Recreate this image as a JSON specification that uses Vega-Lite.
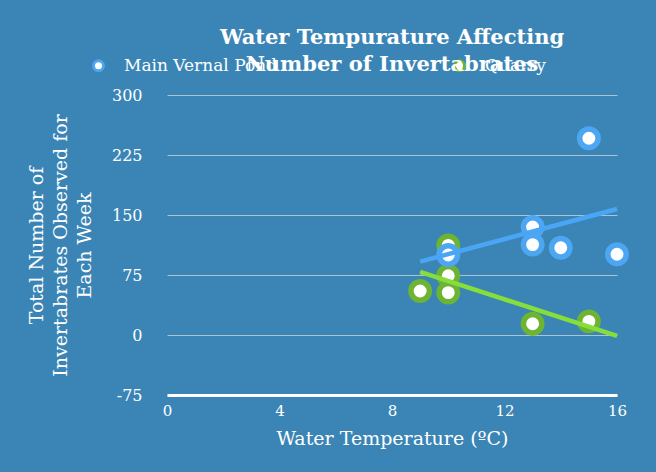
{
  "$schema": "https://vega.github.io/schema/vega-lite/v6.json",
  "width": 450,
  "height": 300,
  "autosize": {"type": "none"},
  "padding": {"left": 167, "top": 95, "right": 39, "bottom": 77},
  "background": "#3b85b6",
  "config": {
    "view": {"stroke": null},
    "font": "DejaVu Serif",
    "title": {"font": "DejaVu Serif"},
    "axis": {"labelFont": "DejaVu Serif", "titleFont": "DejaVu Serif"},
    "legend": {"labelFont": "DejaVu Serif"}
  },
  "title": {
    "text": ["Water Tempurature Affecting", "Number of Invertabrates"],
    "fontSize": 21,
    "fontWeight": "bold",
    "color": "white",
    "anchor": "middle",
    "frame": "group",
    "lineHeight": 27,
    "offset": 14,
    "dy": 32
  },
  "data": {
    "values": [
      {"Site": "Quarry", "Temperature": 9, "Count": 55},
      {"Site": "Quarry", "Temperature": 10, "Count": 112},
      {"Site": "Quarry", "Temperature": 10, "Count": 74},
      {"Site": "Quarry", "Temperature": 10, "Count": 53},
      {"Site": "Quarry", "Temperature": 13, "Count": 14},
      {"Site": "Quarry", "Temperature": 15, "Count": 17},
      {"Site": "Main Vernal Pond", "Temperature": 10, "Count": 100},
      {"Site": "Main Vernal Pond", "Temperature": 13, "Count": 135},
      {"Site": "Main Vernal Pond", "Temperature": 13, "Count": 113},
      {"Site": "Main Vernal Pond", "Temperature": 14, "Count": 109},
      {"Site": "Main Vernal Pond", "Temperature": 15, "Count": 246},
      {"Site": "Main Vernal Pond", "Temperature": 16, "Count": 101}
    ]
  },
  "encoding": {
    "x": {
      "field": "Temperature",
      "type": "quantitative",
      "scale": {"domain": [0, 16], "nice": false, "zero": false},
      "axis": {
        "values": [0, 4, 8, 12, 16],
        "title": "Water Temperature (ºC)",
        "titleColor": "white",
        "titleFontSize": 19,
        "titleFontWeight": "normal",
        "titlePadding": 11,
        "labelColor": "white",
        "labelFontSize": 15,
        "labelPadding": 8,
        "labelFlush": false,
        "domainColor": "white",
        "domainWidth": 3,
        "ticks": false,
        "grid": false
      }
    },
    "y": {
      "field": "Count",
      "type": "quantitative",
      "scale": {"domain": [-75, 300], "nice": false, "zero": false},
      "axis": {
        "values": [-75, 0, 75, 150, 225, 300],
        "labelExpr": "replace(datum.label, '−', '-')",
        "title": ["Total Number of", "Invertabrates Observed for", "Each Week"],
        "titleColor": "white",
        "titleFontSize": 19,
        "titleFontWeight": "normal",
        "titleAngle": -90,
        "titleAlign": "center",
        "titleBaseline": "middle",
        "titleLineHeight": 24,
        "titleX": -131,
        "titleY": 150,
        "labelColor": "white",
        "labelFontSize": 16,
        "labelPadding": 25,
        "domain": false,
        "ticks": false,
        "grid": true,
        "gridColor": "#c9d3da",
        "gridWidth": 1,
        "gridOpacity": 0.8
      }
    }
  },
  "layer": [
    {
      "mark": {"type": "point", "shape": "circle", "filled": true, "fill": "white", "strokeWidth": 5.5, "size": 340, "opacity": 1},
      "encoding": {
        "stroke": {
          "field": "Site",
          "type": "nominal",
          "scale": {"domain": ["Main Vernal Pond", "Quarry"], "range": ["#4da6f2", "#6cb432"]},
          "legend": {
            "title": null,
            "orient": "none",
            "direction": "horizontal",
            "legendX": -77,
            "legendY": -38,
            "padding": 0,
            "symbolType": "circle",
            "symbolSize": 100,
            "symbolStrokeWidth": 3,
            "symbolFillColor": "white",
            "labelColor": "white",
            "labelFontSize": 17,
            "labelOffset": 17,
            "columnPadding": 171
          }
        }
      }
    },
    {
      "transform": [
        {"regression": "Count", "on": "Temperature", "groupby": ["Site"], "extent": [9, 16]}
      ],
      "mark": {"type": "line", "strokeWidth": 4.5},
      "encoding": {
        "color": {
          "field": "Site",
          "type": "nominal",
          "scale": {"domain": ["Main Vernal Pond", "Quarry"], "range": ["#4aa6f5", "#86de3a"]},
          "legend": null
        }
      }
    }
  ]
}
